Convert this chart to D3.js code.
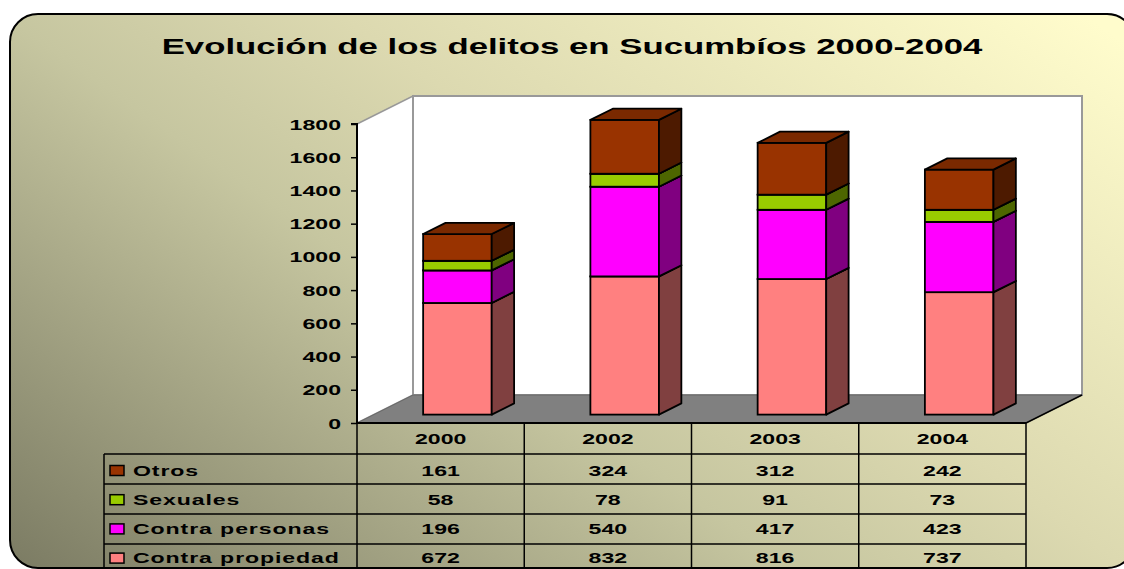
<!DOCTYPE html>
<html><head><meta charset="utf-8">
<script src="https://cdn.jsdelivr.net/npm/d3@7"></script>
<style>
html,body{margin:0;padding:0;background:#fff;}
svg{display:block;}
text{font-family:"Liberation Sans",Arial,sans-serif;font-weight:bold;fill:#000;}
</style></head>
<body>
<svg id="chart" width="1124" height="569"></svg>
<script>
const title = "Evolución de los delitos en Sucumbíos 2000-2004";
const years = ["2000","2002","2003","2004"];
const seriesNames = ["Contra propiedad","Contra personas","Sexuales","Otros"];
const contraPropiedad = [672, 832, 816, 737];
const contraPersonas = [196, 540, 417, 423];
const sexuales = [58, 78, 91, 73];
const otros = [161, 324, 312, 242];
const yTicks = [0,200,400,600,800,1000,1200,1400,1600,1800];
const frontColors = ["#FF8080","#FF00FF","#99CC00","#993300"];
const sideColors = ["#804040","#800080","#4D6600","#4D1A00"];
const topColors = ["#B35A5A","#B300B3","#6B8F00","#7A2900"];

const svg = d3.select("#chart");
const defs = svg.append("defs");
const grad = defs.append("linearGradient").attr("id","bg").attr("gradientUnits","userSpaceOnUse")
  .attr("x1",10).attr("y1",569).attr("x2",624).attr("y2",-308);
[[0,"#7b7b63"],[0.42,"#c6c6a0"],[0.6,"#dcd9b0"],[1,"#fffccc"]].forEach(([o,c])=>
  grad.append("stop").attr("offset",o).attr("stop-color",c));

svg.append("rect").attr("x",10).attr("y",14).attr("width",1125).attr("height",554)
  .attr("rx",28).attr("ry",28).attr("fill","url(#bg)").attr("stroke","#000").attr("stroke-width",2);

function txt(g, x, y, s, size, anchor, sx, ls){
  const t = g.append("text").attr("transform",`translate(${x},${y}) scale(${sx},1)`)
    .attr("text-anchor",anchor).attr("font-size",size).text(s);
  if (ls) t.attr("letter-spacing",ls);
  return t;
}

// title
txt(svg, 572, 54, title, 22, "middle", 1.58);

// geometry
const left = 357, right = 1026, bottom = 423, topY = 124;
const DX = 56, DY = -28;
const y = d3.scaleLinear().domain([0,1800]).range([bottom, topY]);
const xb = d3.scaleBand().domain(years).range([left,right]).paddingInner(0.59).paddingOuter(0.295);
const xc = d3.scaleBand().domain(years).range([left,right]);

// walls
const pts = a => a.map(p=>p.join(",")).join(" ");
svg.append("polygon").attr("points",pts([[left,y(1800)],[left+DX,y(1800)+DY],[left+DX,bottom+DY],[left,bottom]]))
  .attr("fill","#fff").attr("stroke","#999").attr("stroke-width",1.5);
svg.append("rect").attr("x",left+DX).attr("y",y(1800)+DY).attr("width",right-left).attr("height",bottom-y(1800))
  .attr("fill","#fff").attr("stroke","#999").attr("stroke-width",2);
svg.append("polygon").attr("points",pts([[left,bottom],[right,bottom],[right+DX,bottom+DY],[left+DX,bottom+DY]]))
  .attr("fill","#808080").attr("stroke","#666").attr("stroke-width",1);
svg.append("line").attr("x1",right).attr("y1",bottom).attr("x2",right+DX).attr("y2",bottom+DY)
  .attr("stroke","#000").attr("stroke-width",1.5);

// bars
const rows = years.map((yr,i)=>({year:yr, "Contra propiedad":contraPropiedad[i], "Contra personas":contraPersonas[i], "Sexuales":sexuales[i], "Otros":otros[i]}));
const stack = d3.stack().keys(seriesNames)(rows);
const f0 = 0.3, f1 = 0.7;
const ox = DX*f0, oy = DY*f0, dx = DX*(f1-f0), dy = DY*(f1-f0);
const barsG = svg.append("g");
years.forEach((yr,i)=>{
  const x0 = xb(yr)+ox, w = xb.bandwidth();
  stack.forEach((s,k)=>{
    const v0 = s[i][0], v1 = s[i][1];
    const yt = y(v1)+oy, yb = y(v0)+oy;
    barsG.append("rect").attr("x",x0).attr("y",yt).attr("width",w).attr("height",yb-yt)
      .attr("fill",frontColors[k]).attr("stroke","#000").attr("stroke-width",1.8);
    barsG.append("polygon").attr("points",pts([[x0+w,yt],[x0+w+dx,yt+dy],[x0+w+dx,yb+dy],[x0+w,yb]]))
      .attr("fill",sideColors[k]).attr("stroke","#000").attr("stroke-width",1.8).attr("stroke-linejoin","round");
    barsG.append("polygon").attr("points",pts([[x0,yt],[x0+dx,yt+dy],[x0+w+dx,yt+dy],[x0+w,yt]]))
      .attr("fill",topColors[k]).attr("stroke","#000").attr("stroke-width",1.8).attr("stroke-linejoin","round");
  });
});

// y axis
const axisG = svg.append("g").attr("transform",`translate(${left},0)`)
  .call(d3.axisLeft(y).tickValues(yTicks).tickSize(6).tickFormat(""));
axisG.select(".domain").attr("stroke","#000").attr("stroke-width",2).attr("d",`M-6,${y(1800)}H0V${bottom}`);
axisG.selectAll(".tick line").attr("stroke","#000").attr("stroke-width",1.5);
yTicks.forEach(t=> txt(svg, 341, y(t)+5.5, String(t), 15.4, "end", 1.5));

// data table
const headerH = 31, rowH = 30;
const tableRows = [
  {name:"Otros", vals:otros, k:3},
  {name:"Sexuales", vals:sexuales, k:2},
  {name:"Contra personas", vals:contraPersonas, k:1},
  {name:"Contra propiedad", vals:contraPropiedad, k:0}
];
const tg = svg.append("g");
const legLeft = 104;
const rowTop = r => bottom + headerH + rowH*r;
const tableBottom = rowTop(4) + rowH;
tg.append("line").attr("x1",legLeft).attr("x2",legLeft).attr("y1",rowTop(0)).attr("y2",tableBottom).attr("stroke","#000").attr("stroke-width",1.5);
years.forEach(yr=>{
  tg.append("line").attr("x1",xc(yr)).attr("x2",xc(yr)).attr("y1",bottom).attr("y2",tableBottom).attr("stroke","#000").attr("stroke-width",1.5);
});
tg.append("line").attr("x1",right).attr("x2",right).attr("y1",bottom).attr("y2",tableBottom).attr("stroke","#000").attr("stroke-width",1.5);
tg.append("line").attr("x1",left).attr("x2",right).attr("y1",bottom).attr("y2",bottom).attr("stroke","#000").attr("stroke-width",2);
for (let r=0;r<4;r++){
  tg.append("line").attr("x1",legLeft).attr("x2",right).attr("y1",rowTop(r)).attr("y2",rowTop(r)).attr("stroke","#000").attr("stroke-width",1.5);
}
years.forEach(yr=> txt(tg, xc(yr)+xc.bandwidth()/2, bottom+21, yr, 15.4, "middle", 1.5));
tableRows.forEach((row,r)=>{
  const base = rowTop(r) + 21.5 - r*0.8;
  tg.append("rect").attr("x",110).attr("y",base-10).attr("width",14).attr("height",10)
    .attr("fill",frontColors[row.k]).attr("stroke","#000").attr("stroke-width",1.5);
  txt(tg, 133, base, row.name, 15.4, "start", 1.5, 0.6);
  years.forEach((yr,i)=> txt(tg, xc(yr)+xc.bandwidth()/2, base, String(row.vals[i]), 15.4, "middle", 1.5));
});
</script>
</body></html>
